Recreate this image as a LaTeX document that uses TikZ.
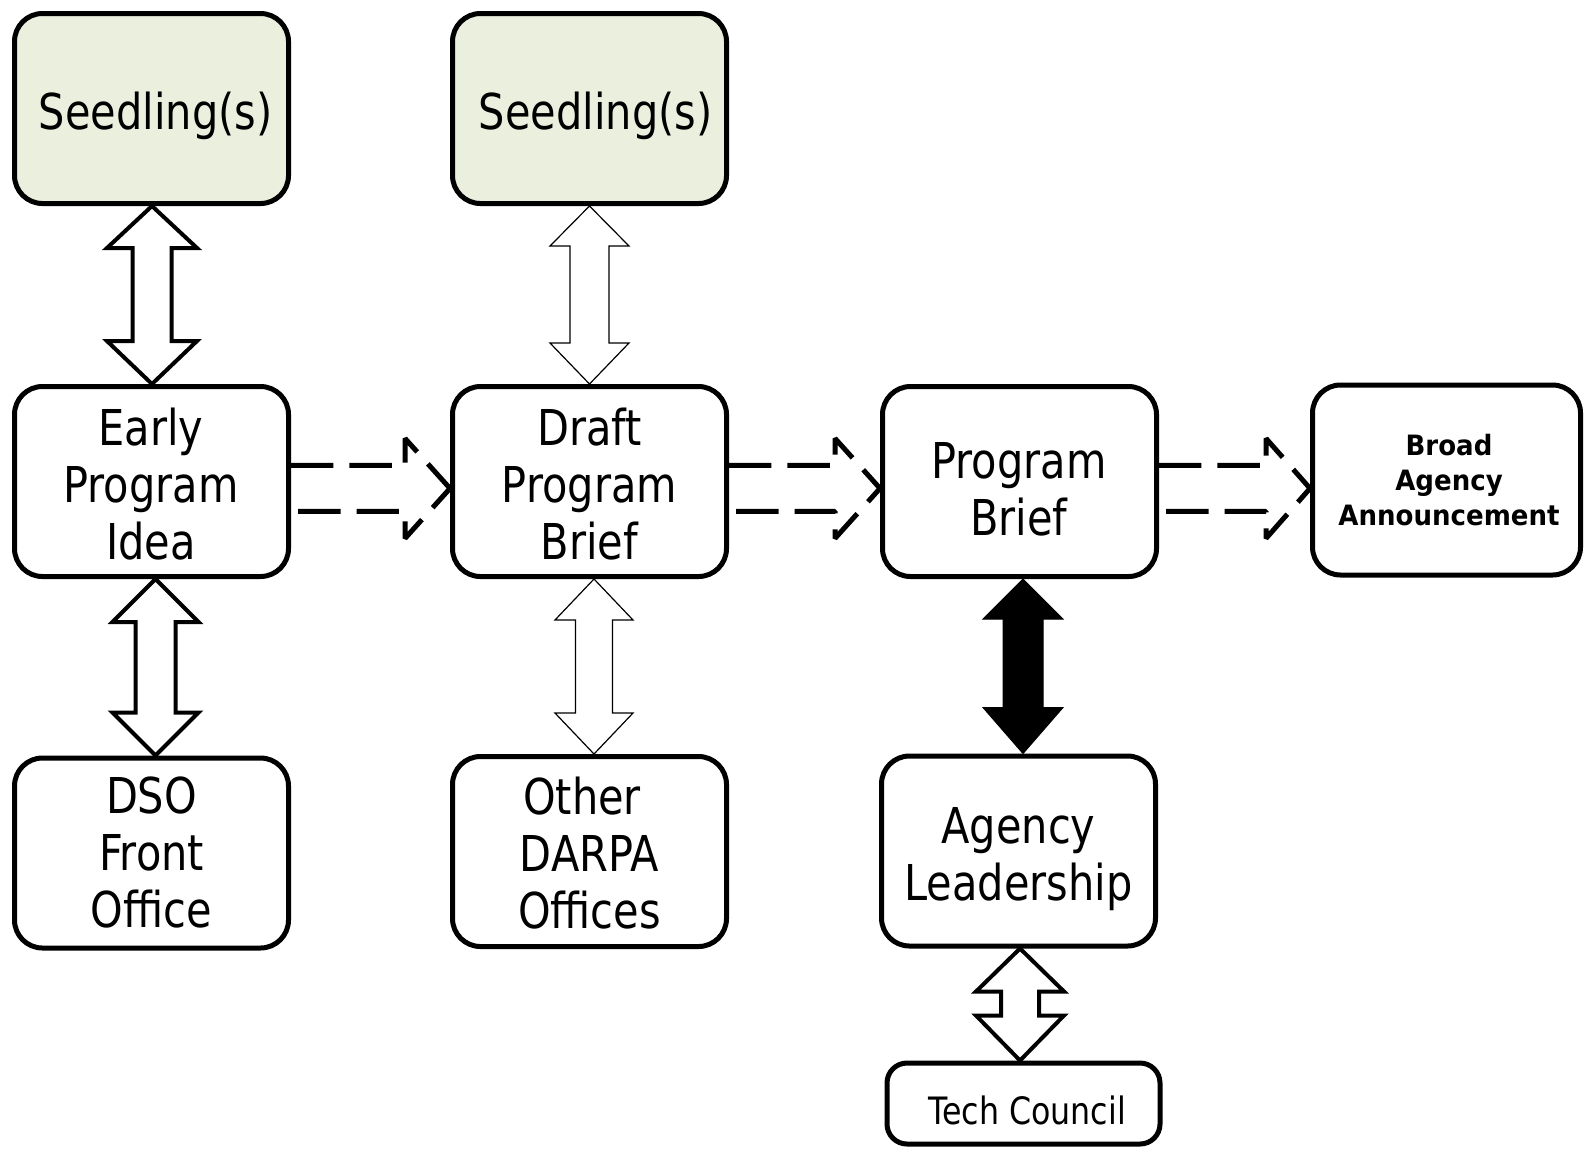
\documentclass[tikz,border=0pt]{standalone}
\usepackage{fontspec}
\setmainfont{DejaVu Sans}
\newfontfamily\seedfont{DejaVu Sans}[FakeStretch=0.84]
\newfontfamily\baafont{DejaVu Sans}[FakeStretch=0.93]
\usetikzlibrary{calc}
\definecolor{seedfill}{HTML}{EBEFDE}
\tikzset{
  box/.style={draw=black, line width=2.5pt, rounded corners=14pt, minimum width=137pt,
    minimum height=95pt, inner sep=0pt, fill=white},
  seedbox/.style={box, fill=seedfill},
  txt/.style={align=center, inner sep=0pt, font=\seedfont\fontsize{24.7pt}{28.5pt}\selectfont},
  seedtxt/.style={align=center, inner sep=0pt, font=\seedfont\fontsize{24.7pt}{30pt}\selectfont},
  baatxt/.style={align=center, inner sep=0pt, font=\baafont\bfseries\fontsize{14pt}{17.5pt}\selectfont},
  techtxt/.style={align=center, inner sep=0pt, font=\seedfont\fontsize{18.85pt}{22pt}\selectfont},
  thickarrow/.style={draw=black, fill=white, line width=2pt, line join=miter},
  thinarrow/.style={draw=black, fill=white, line width=0.6pt, line join=miter},
  solidarrow/.style={draw=black, fill=black, line width=0.5pt, line join=miter},
  dasharrow/.style={draw=black, line width=2.5pt, line cap=butt, line join=bevel,
    dash pattern=on 21.2pt off 8pt}
}
% vertical double block arrow: style, top point, bottom point, shaft half, head half, top head len, bottom head len
\newcommand\vdarrow[7]{%
  \draw[#1] let \p1=(#2), \p2=(#3) in
    (\x1,\y1) -- (\x1+#5,\y1-#6) -- (\x1+#4,\y1-#6) -- (\x1+#4,\y2+#7) -- (\x1+#5,\y2+#7)
    -- (\x1,\y2) -- (\x1-#5,\y2+#7) -- (\x1-#4,\y2+#7) -- (\x1-#4,\y1-#6) -- (\x1-#5,\y1-#6) -- cycle;}
% horizontal dashed block arrow: start, end, shaft half, head half, head len
\newcommand\hdarrow[5]{%
  \draw[dasharrow] let \p1=(#1), \p2=(#2) in
    (\x1,\y1+#3) -- (\x2-#5,\y1+#3) -- (\x2-#5,\y1+#4) -- (\x2,\y1);
  \draw[dasharrow, dash phase=25.65pt] let \p1=(#1), \p2=(#2) in
    (\x1,\y1-#3) -- (\x2-#5,\y1-#3) -- (\x2-#5,\y1-#4) -- (\x2,\y1);}
\begin{document}
\begin{tikzpicture}[x=0.5pt,y=-0.5pt]
\useasboundingbox (0,0) rectangle (1584,1148);
% boxes
\node[seedbox] (seed1) at (151.5,108.5) {};
\node[seedbox] (seed2) at (589.5,108.5) {};
\node[box] (early) at (151.5,481.5) {};
\node[box] (draft) at (589.5,481.5) {};
\node[box] (brief) at (1019.5,481.5) {};
\node[box, minimum width=134pt] (baa) at (1446.5,480) {};
\node[box] (dso) at (151.5,853) {};
\node[box] (other) at (589.5,851.5) {};
\node[box] (agency) at (1018.5,851) {};
\node[box, minimum width=136.5pt, minimum height=40.5pt, rounded corners=10pt] (tech) at (1023.5,1103.5) {};
% texts
\node[seedtxt] (seed1t) at (155.6,116) {Seedling(s)};
\node[seedtxt] (seed2t) at (595.6,116) {Seedling(s)};
\node[txt] (earlyt) at (151,484) {Early\\Program\\Idea};
\node[txt] (draftt) at (589.5,484) {Draft\\Program\\Brief};
\node[txt] (brieft) at (1019,489) {Program\\Brief};
\node[baatxt] (baat) at (1449,480) {Broad\\Agency\\Announcement};
\node[txt] (dsot) at (151.5,852.5) {DSO\\Front\\Office};
\node[txt] (othert) at (589.5,853) {Other\hspace*{7.5pt}\\DARPA\\Offices};
\node[txt] (agencyt) at (1018.5,859.5) {Agency\\Leadership};
\node[techtxt] (techt) at (1027,1110) {Tech Council};
% vertical double arrows
\vdarrow{thickarrow}{[xshift=0.25pt]seed1.south}{early.north}{9.75pt}{22.5pt}{21pt}{21.5pt}
\vdarrow{thickarrow}{[xshift=2pt]early.south}{dso.north}{10pt}{21.5pt}{21.5pt}{21.5pt}
\vdarrow{thinarrow}{seed2.south}{draft.north}{9.75pt}{19.75pt}{20pt}{20.5pt}
\vdarrow{thinarrow}{[xshift=2.25pt]draft.south}{other.north}{9.25pt}{19.5pt}{20.5pt}{20.5pt}
\vdarrow{solidarrow}{[xshift=1.75pt]brief.south}{agency.north}{10pt}{20pt}{20pt}{23pt}
\vdarrow{thickarrow}{[xshift=0.75pt]agency.south}{tech.north}{9.5pt}{22pt}{21.5pt}{22.5pt}
% dashed arrows
\hdarrow{[yshift=-3.45pt]early.east}{draft.west}{11.5pt}{25pt}{22.5pt}
\hdarrow{[yshift=-3.45pt]draft.east}{brief.west}{11.5pt}{25pt}{22.5pt}
\hdarrow{[yshift=-3.45pt]brief.east}{baa.west}{11.5pt}{25pt}{22pt}
\end{tikzpicture}
\end{document}
